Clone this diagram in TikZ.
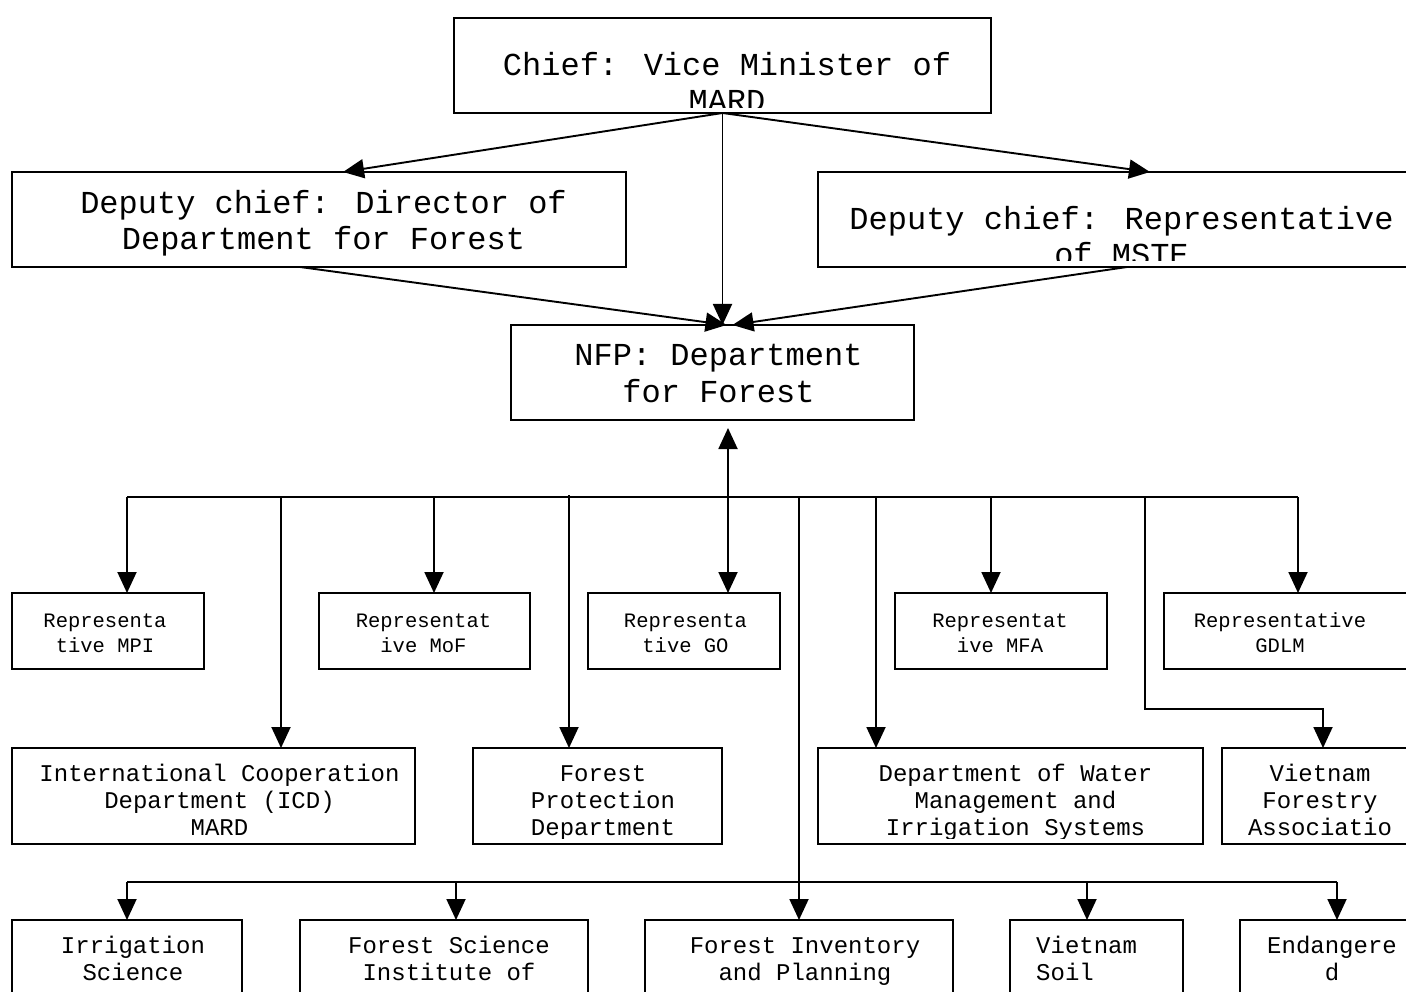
\documentclass[tikz,border=0pt]{standalone}
\usepackage{fontspec}
\setmainfont{Liberation Mono}
\usetikzlibrary{arrows.meta}
\begin{document}
\begin{tikzpicture}[x=1pt,y=-1pt,
  box/.style={draw, line width=1.9pt, rectangle, inner sep=0pt, outer sep=0pt},
  big/.style={font=\fontsize{32}{36}\selectfont, align=center, anchor=base, inner sep=0pt},
  mid/.style={font=\fontsize{24}{27}\selectfont, align=center, anchor=base, inner sep=0pt},
  sml/.style={font=\fontsize{20.5}{25}\selectfont, align=center, anchor=base, inner sep=0pt},
  conn/.style={line width=1.9pt},
  arr/.style={line width=1.9pt, -{Triangle[length=21pt,width=19pt]}},
  arrb/.style={line width=1.9pt, {Triangle[length=21pt,width=19pt]}-{Triangle[length=21pt,width=19pt]}}]
\fill[white] (0,0) rectangle (1406,992);
\useasboundingbox (0,0) rectangle (1406,992);
\clip (0,0) rectangle (1406,992);

% boxes
\node[box, minimum width=537pt, minimum height=95pt] (chief) at (722.5,65.5) {};
\node[box, minimum width=614pt, minimum height=95pt] (dl) at (319,219.5) {};
\node[box, minimum width=608pt, minimum height=95pt] (dr) at (1122,219.5) {};
\node[box, minimum width=403pt, minimum height=95pt] (nfp) at (712.5,372.5) {};
\node[box, minimum width=192pt, minimum height=76pt] (mpi) at (108,631) {};
\node[box, minimum width=211pt, minimum height=76pt] (mof) at (424.5,631) {};
\node[box, minimum width=192pt, minimum height=76pt] (go) at (684,631) {};
\node[box, minimum width=212pt, minimum height=76pt] (mfa) at (1001,631) {};
\node[box, minimum width=256pt, minimum height=76pt] (gdlm) at (1292,631) {};
\node[box, minimum width=403pt, minimum height=96pt] (icd) at (213.5,796) {};
\node[box, minimum width=249pt, minimum height=96pt] (fpd) at (597.5,796) {};
\node[box, minimum width=385pt, minimum height=96pt] (wm) at (1010.5,796) {};
\node[box, minimum width=198pt, minimum height=96pt] (vfa) at (1321,796) {};
\node[box, minimum width=230pt, minimum height=90pt] (irr) at (127,965) {};
\node[box, minimum width=288pt, minimum height=90pt] (fsi) at (444,965) {};
\node[box, minimum width=308pt, minimum height=90pt] (fip) at (799,965) {};
\node[box, minimum width=173pt, minimum height=90pt] (soil) at (1096.5,965) {};
\node[box, minimum width=200pt, minimum height=90pt] (endg) at (1340,965) {};

% texts (anchor base = baseline of the last line; clipped to inner box area)
\begin{scope}
\clip (chief.north west) rectangle ([yshift=5pt]chief.south east);
\node[big] (tchief) at (727,112) {Chief: Vice Minister of\\MARD};
\end{scope}
\node[big] (tdl) at (323.5,250) {Deputy chief: Director of\\Department for Forest};
\begin{scope}
\clip (dr.north west) rectangle ([yshift=6pt]dr.south east);
\node[big] (tdr) at (1121.5,266) {Deputy chief: Representative\\of MSTE};
\end{scope}
\node[big] (tnfp) at (718.5,402) {NFP: Department\\for Forest};
\node[sml] (tmpi) at (105,652) {Representa\\tive MPI};
\node[sml] (tmof) at (423.5,652) {Representat\\ive MoF};
\node[sml] (tgo) at (685.5,652) {Representa\\tive GO};
\node[sml] (tmfa) at (1000,652) {Representat\\ive MFA};
\node[sml] (tgdlm) at (1280,652) {Representative\\GDLM};
\begin{scope}
\clip (icd.north west) rectangle ([yshift=6pt]icd.south east);
\node[mid] (ticd) at (219.5,835) {International Cooperation\\Department (ICD)\\MARD};
\end{scope}
\begin{scope}
\clip (fpd.north west) rectangle ([yshift=6pt]fpd.south east);
\node[mid] (tfpd) at (603,835) {Forest\\Protection\\Department};
\end{scope}
\begin{scope}
\clip (wm.north west) rectangle ([yshift=6pt]wm.south east);
\node[mid] (twm) at (1015.5,835) {Department of Water\\Management and\\Irrigation Systems};
\end{scope}
\begin{scope}
\clip (vfa.north west) rectangle ([yshift=6pt]vfa.south east);
\node[mid] (tvfa) at (1320,835) {Vietnam\\Forestry\\Associatio};
\end{scope}
\node[mid] (tirr) at (133,980) {Irrigation\\Science};
\node[mid] (tfsi) at (449,980) {Forest Science\\Institute of};
\node[mid] (tfip) at (805,980) {Forest Inventory\\and Planning};
\node[mid, align=left, anchor=base west] (tsoil) at (1036,980) {Vietnam\\Soil};
\node[mid] (tend) at (1332,980) {Endangere\\d};

% top connectors
\draw[arr] (chief.south) -- ([xshift=24pt]dl.north);
\draw[arr] (chief.south) -- ([xshift=28pt]dr.north);
\draw[arr] (chief.south) -- (chief.south |- nfp.north);
\draw[arr] ([xshift=-19pt]dl.south) -- ([xshift=14pt]nfp.north);
\draw[arr] ([xshift=5pt]dr.south) -- ([xshift=20pt]nfp.north);

% bus level 1
\coordinate (bus) at (728,497);
\coordinate (b1) at (127,497);
\coordinate (b2) at (281,497);
\coordinate (b3) at (434,497);
\coordinate (b4) at (569,497);
\coordinate (b5) at (799,497);
\coordinate (b6) at (876,497);
\coordinate (b7) at (991,497);
\coordinate (b8) at (1145,497);
\coordinate (b9) at (1298,497);
\draw[conn] (b1) -- (b9);
\draw[arrb] ([yshift=-8pt]bus |- nfp.south) -- (bus |- go.north);
\draw[arr] (b1) -- (b1 |- mpi.north);
\draw[arr] (b2) -- (b2 |- icd.north);
\draw[arr] (b3) -- (b3 |- mof.north);
\draw[arr] ([yshift=2pt]b4) -- (b4 |- fpd.north);
\draw[arr] (b6) -- (b6 |- wm.north);
\draw[arr] (b7) -- (b7 |- mfa.north);
\draw[arr] (b9) -- (b9 |- gdlm.north);
\coordinate (vk) at (1323,709);
\draw[arr] (b8) -- (b8 |- vk) -- (vk) -- (vk |- vfa.north);

% bus level 2
\coordinate (c1) at (127,882);
\coordinate (c2) at (456,882);
\coordinate (c4) at (1087,882);
\coordinate (c5) at (1337,882);
\draw[conn] (c1) -- (c5);
\draw[arr] (b5) -- (b5 |- fip.north);
\draw[arr] (c1) -- (c1 |- irr.north);
\draw[arr] (c2) -- (c2 |- fsi.north);
\draw[arr] (c4) -- (c4 |- soil.north);
\draw[arr] (c5) -- (c5 |- endg.north);
\end{tikzpicture}
\end{document}
